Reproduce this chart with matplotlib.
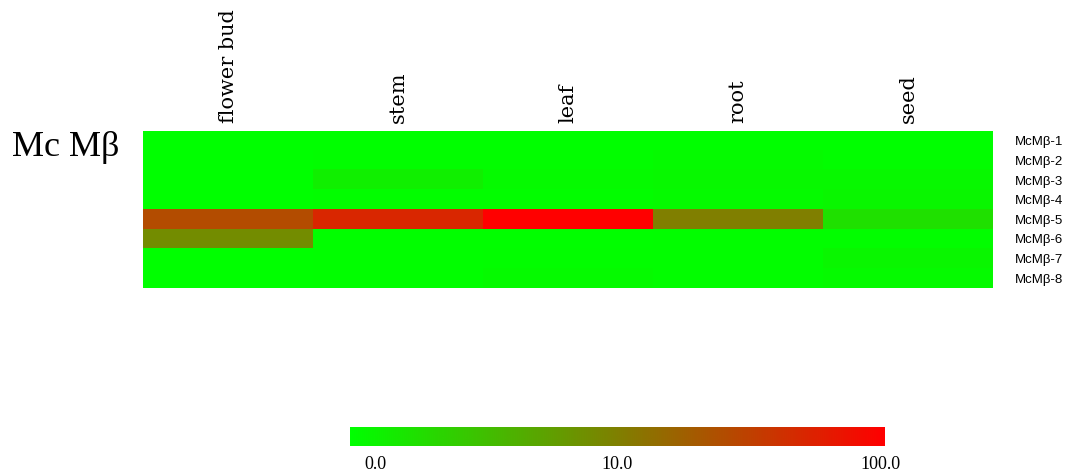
import numpy as np
import matplotlib
matplotlib.use("Agg")
import matplotlib.pyplot as plt
from matplotlib.colors import LinearSegmentedColormap, FuncNorm

# expression levels: rows = genes, columns = tissues
tissues = ["flower bud", "stem", "leaf", "root", "seed"]
genes = ["McM\u03b2-1", "McM\u03b2-2", "McM\u03b2-3", "McM\u03b2-4",
         "McM\u03b2-5", "McM\u03b2-6", "McM\u03b2-7", "McM\u03b2-8"]
expr = [
    [0.0, 0.0, 0.0, 0.0, 0.0],
    [0.0, 0.05, 0.05, 0.1, 0.05],
    [0.0, 0.35, 0.1, 0.15, 0.15],
    [0.0, 0.05, 0.05, 0.1, 0.2],
    [25.7, 51.0, 100.0, 10.0, 0.8],
    [7.7, 0.02, 0.02, 0.05, 0.05],
    [0.0, 0.02, 0.05, 0.05, 0.2],
    [0.0, 0.02, 0.1, 0.05, 0.1],
]
bar_ticks = [0.0, 10.0, 100.0]

# 0 -> 0, 10 -> middle, 100 -> top, log-spaced in between
log_pts = np.log10(np.array(bar_ticks) + 1)
frac_pts = [0.0, 0.5, 1.0]


def fwd(x):
    return np.interp(np.log10(np.asarray(x, dtype=float) + 1), log_pts, frac_pts)


def inv(y):
    return 10 ** np.interp(np.asarray(y, dtype=float), frac_pts, log_pts) - 1


norm = FuncNorm((fwd, inv), vmin=0, vmax=100)
cmap = LinearSegmentedColormap.from_list("gr", ["#00ff00", "#ff0000"])

serif = ["Liberation Serif", "DejaVu Serif"]
sans = ["Liberation Sans", "DejaVu Sans"]

fig = plt.figure(figsize=(10.67, 4.75), dpi=100)

ax = fig.add_axes([143 / 1067, 1 - 288 / 475, 850 / 1067, 157 / 475])
ax.imshow(np.array(expr), cmap=cmap, norm=norm, aspect="auto",
          interpolation="nearest")
for s in ax.spines.values():
    s.set_visible(False)

ax.xaxis.tick_top()
ax.set_xticks(range(len(tissues)))
ax.set_xticklabels(tissues, rotation=90, family="DejaVu Serif", fontsize=15,
                   va="bottom", ha="center")
ax.tick_params(axis="x", length=0, pad=6)

ax.yaxis.tick_right()
ax.set_yticks(range(len(genes)))
ax.set_yticklabels(genes, family=sans, fontsize=9.5)
ax.tick_params(axis="y", length=0, pad=16)

fig.text(12 / 1067, 1 - 148 / 475, "Mc M\u03b2", family=serif, fontsize=26,
         ha="left", va="center")

# colour key
cax = fig.add_axes([350 / 1067, 1 - 446 / 475, 535 / 1067, 19 / 475])
grad = np.linspace(0, 1, 512)[None, :]
cax.imshow(grad, cmap=cmap, aspect="auto", extent=[0, 1, 0, 1])
cax.set_xlim(0, 1)
cax.set_ylim(0, 1)
cax.axis("off")

aligns = ["left", "center", "right"]
offsets = [10, 0, 11]
for v, ha, dx in zip(bar_ticks, aligns, offsets):
    cax.annotate(f"{v:.1f}", xy=(float(fwd(v)), 0), xycoords="axes fraction",
                 xytext=(dx, -7), textcoords="offset points",
                 ha=ha, va="top", family=serif, fontsize=13)

fig.savefig("out.png", dpi=100)
